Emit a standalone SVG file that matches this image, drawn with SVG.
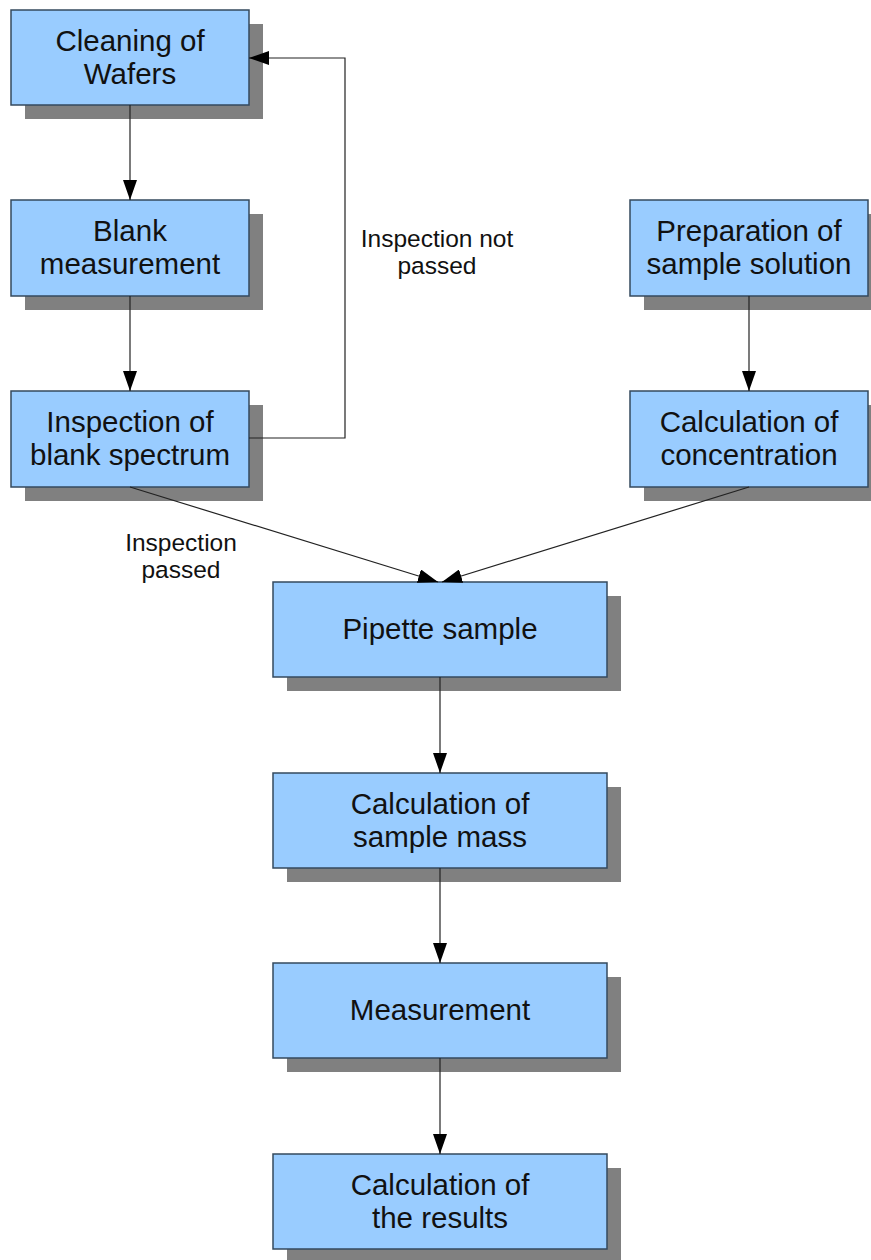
<svg xmlns="http://www.w3.org/2000/svg" width="871" height="1260" viewBox="0 0 871 1260">
<style>
.sh{fill:#808080}
.bx{fill:#99ccff;stroke:#34495e;stroke-width:1.5}
.t{font-family:"Liberation Sans",Arial,sans-serif;font-size:29.5px;fill:#111;text-anchor:middle}
.l{font-family:"Liberation Sans",Arial,sans-serif;font-size:24.5px;fill:#111;text-anchor:middle}
.c{fill:none;stroke:#222;stroke-width:1.2}
</style>
<defs>
<marker id="ah" viewBox="0 0 20 14" refX="20" refY="7" markerWidth="20" markerHeight="14" markerUnits="userSpaceOnUse" orient="auto">
<path d="M0,0 L20,7 L0,14 Z" fill="#000"/>
</marker>
</defs>
<rect width="871" height="1260" fill="#fff"/>
<g id="n1"><rect class="sh" x="25" y="24" width="238" height="95"/><rect class="bx" x="11" y="10" width="238" height="95"/><text class="t" x="130" y="51">Cleaning of</text><text class="t" x="130" y="84">Wafers</text></g>
<g id="n2"><rect class="sh" x="25" y="214" width="238" height="96"/><rect class="bx" x="11" y="200" width="238" height="96"/><text class="t" x="130" y="241">Blank</text><text class="t" x="130" y="274">measurement</text></g>
<g id="n3"><rect class="sh" x="25" y="405" width="238" height="96"/><rect class="bx" x="11" y="391" width="238" height="96"/><text class="t" x="130" y="432">Inspection of</text><text class="t" x="130" y="465">blank spectrum</text></g>
<g id="n4"><rect class="sh" x="644" y="214" width="238" height="96"/><rect class="bx" x="630" y="200" width="238" height="96"/><text class="t" x="749" y="241">Preparation of</text><text class="t" x="749" y="274">sample solution</text></g>
<g id="n5"><rect class="sh" x="644" y="405" width="238" height="96"/><rect class="bx" x="630" y="391" width="238" height="96"/><text class="t" x="749" y="432">Calculation of</text><text class="t" x="749" y="465">concentration</text></g>
<g id="n6"><rect class="sh" x="287" y="596" width="334" height="95"/><rect class="bx" x="273" y="582" width="334" height="95"/><text class="t" x="440" y="639">Pipette sample</text></g>
<g id="n7"><rect class="sh" x="287" y="787" width="334" height="95"/><rect class="bx" x="273" y="773" width="334" height="95"/><text class="t" x="440" y="814">Calculation of</text><text class="t" x="440" y="847">sample mass</text></g>
<g id="n8"><rect class="sh" x="287" y="977" width="334" height="95"/><rect class="bx" x="273" y="963" width="334" height="95"/><text class="t" x="440" y="1020">Measurement</text></g>
<g id="n9"><rect class="sh" x="287" y="1168" width="334" height="95"/><rect class="bx" x="273" y="1154" width="334" height="95"/><text class="t" x="440" y="1195">Calculation of</text><text class="t" x="440" y="1228">the results</text></g>
<g id="connectors">
<line class="c" x1="130" y1="105" x2="130" y2="200" marker-end="url(#ah)"/>
<line class="c" x1="130" y1="296" x2="130" y2="391" marker-end="url(#ah)"/>
<polyline class="c" points="249,438 345,438 345,58 249,58" marker-end="url(#ah)"/>
<line class="c" x1="749" y1="296" x2="749" y2="391" marker-end="url(#ah)"/>
<line class="c" x1="130" y1="487" x2="438" y2="582" marker-end="url(#ah)"/>
<line class="c" x1="749" y1="487" x2="442" y2="582" marker-end="url(#ah)"/>
<line class="c" x1="440" y1="677" x2="440" y2="773" marker-end="url(#ah)"/>
<line class="c" x1="440" y1="868" x2="440" y2="963" marker-end="url(#ah)"/>
<line class="c" x1="440" y1="1058" x2="440" y2="1154" marker-end="url(#ah)"/>
<text class="l" x="437" y="247">Inspection not</text>
<text class="l" x="437" y="274">passed</text>
<text class="l" x="181" y="551">Inspection</text>
<text class="l" x="181" y="578">passed</text>
</g>
</svg>
